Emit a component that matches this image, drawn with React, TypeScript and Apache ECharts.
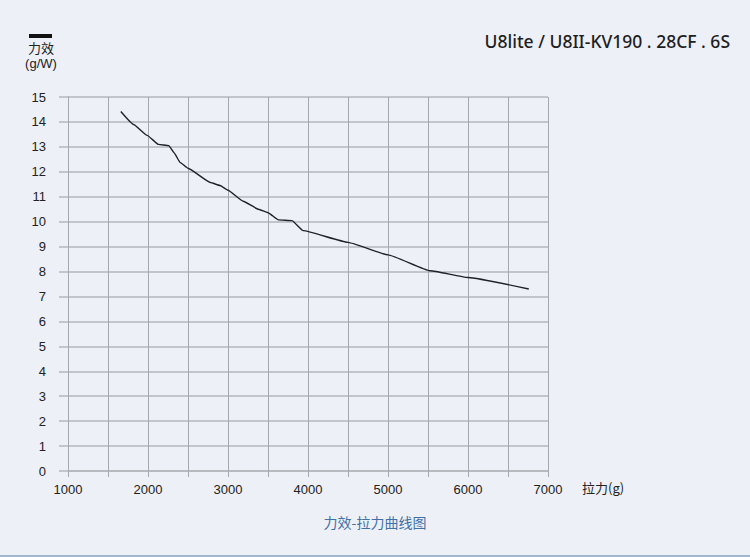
import React, { useEffect, useRef } from "react";
import * as echarts from "echarts";

const pullForce: number[] = [1660, 1820, 1990, 2130, 2260, 2330, 2400, 2500, 2780, 2900, 3000, 3190, 3380, 3500, 3630, 3800, 3940, 4500, 5000, 5530, 6000, 6760];
const efficiency: number[] = [14.42, 13.9, 13.46, 13.1, 13.05, 12.75, 12.38, 12.14, 11.57, 11.45, 11.26, 10.82, 10.5, 10.36, 10.07, 10.04, 9.64, 9.17, 8.67, 8.03, 7.76, 7.3];
const chartTitle = "U8lite / U8II-KV190 . 28CF . 6S";
const yName1 = "力效";
const yName2 = "(g/W)";
const xName = "拉力(g)";
const caption = "力效-拉力曲线图";

export default function App() {
  const ref = useRef<HTMLDivElement>(null);
  useEffect(() => {
    if (!ref.current) return;
    const chart = echarts.init(ref.current, null, { renderer: "svg" });
    const data = pullForce.map((x, i) => [x, efficiency[i]]);
    const hColor = "#b3b7bc";
    const vColor = "#a5a9ae";
    chart.setOption({
      animation: false,
      backgroundColor: "#edf0f7",
      grid: { left: 68, right: 202, top: 97, bottom: 86, containLabel: false },
      xAxis: {
        type: "value",
        min: 1000,
        max: 7000,
        interval: 500,
        name: xName,
        nameLocation: "end",
        nameGap: 34,
        nameTextStyle: { color: "#222", fontSize: 13, fontFamily: "'Noto Sans CJK SC', sans-serif", verticalAlign: "top", padding: [10, 0, 0, 0] },
        axisLine: { show: true, lineStyle: { color: hColor, width: 1.5 } },
        axisTick: { show: true, length: 6, lineStyle: { color: vColor, width: 1 } },
        splitLine: { show: true, lineStyle: { color: vColor, width: 1 } },
        axisLabel: {
          margin: 12,
          color: "#222",
          fontSize: 13,
          fontFamily: "'Liberation Sans Narrow', 'Liberation Sans', sans-serif",
          formatter: (v: number) => (v % 1000 === 0 ? String(v) : ""),
        },
      },
      yAxis: {
        type: "value",
        min: 0,
        max: 15,
        interval: 1,
        axisLine: { show: true, lineStyle: { color: vColor, width: 1 } },
        axisTick: { show: true, length: 9, lineStyle: { color: hColor, width: 1.5 } },
        splitLine: { show: true, lineStyle: { color: hColor, width: 1.5 } },
        axisLabel: {
          margin: 22,
          color: "#222",
          fontSize: 13,
          fontFamily: "'Liberation Sans', sans-serif",
        },
      },
      series: [
        {
          type: "line",
          data,
          showSymbol: false,
          smooth: 0.12,
          smoothMonotone: "x",
          lineStyle: { color: "#1f2226", width: 1.4 },
          z: 5,
        },
      ],
      graphic: [
        {
          type: "text",
          right: 20,
          top: 32,
          style: { text: chartTitle, fontSize: 17.5, fill: "#1e1e1e", fontFamily: "'Noto Sans', sans-serif", fontWeight: 500 },
        },
        { type: "rect", shape: { x: 29, y: 34, width: 23, height: 4 }, style: { fill: "#111" } },
        {
          type: "text",
          x: 41,
          y: 47,
          style: { text: yName1, fontSize: 13, fill: "#222", align: "center", verticalAlign: "middle", fontFamily: "'Noto Sans CJK SC', sans-serif" },
        },
        {
          type: "text",
          x: 41,
          y: 63,
          style: { text: yName2, fontSize: 13, fill: "#222", align: "center", verticalAlign: "middle", fontFamily: "'Liberation Sans', sans-serif" },
        },
        {
          type: "text",
          x: 375,
          y: 522,
          style: { text: caption, fontSize: 14, fill: "#3f70a8", align: "center", verticalAlign: "middle", fontFamily: "'Noto Sans CJK SC', sans-serif" },
        },
        { type: "rect", shape: { x: 0, y: 555, width: 750, height: 2 }, style: { fill: "#9fb5d0" } },
      ],
    });
    return () => chart.dispose();
  }, []);
  return <div ref={ref} style={{ position: "absolute", left: 0, top: 0, width: 750, height: 557 }} />;
}
